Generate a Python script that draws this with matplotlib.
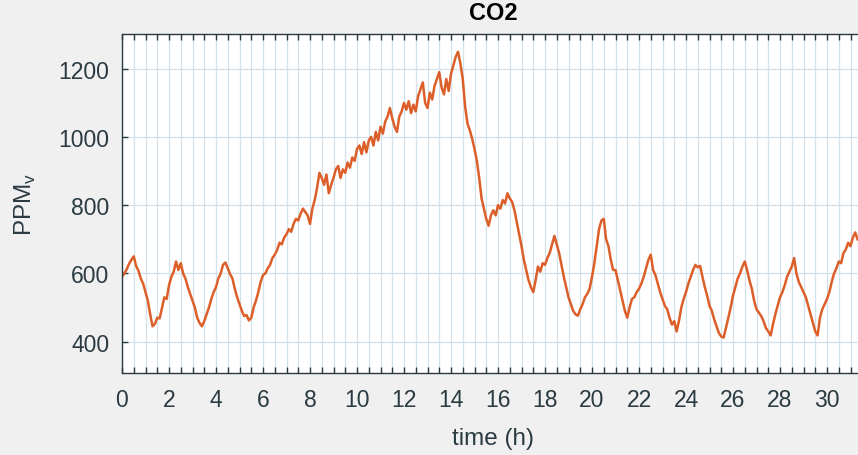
import numpy as np
import matplotlib.pyplot as plt
from matplotlib.ticker import MultipleLocator

# CO2 concentration (PPMv), one sample every 0.1 h
co2 = [
    590, 600, 612, 628, 640, 650, 622, 608, 585, 570,
    545, 520, 480, 445, 452, 470, 468, 498, 530, 525,
    565, 590, 605, 635, 610, 630, 600, 585, 560, 540,
    520, 500, 470, 455, 445, 460, 480, 500, 525, 545,
    560, 585, 600, 625, 632, 615, 598, 585, 555, 530,
    510, 490, 475, 478, 462, 470, 500, 520, 545, 575,
    595, 600, 615, 625, 645, 655, 668, 690, 685, 705,
    715, 730, 722, 745, 760, 755, 775, 790, 780, 770,
    745, 790, 815, 850, 895, 880, 860, 890, 835, 860,
    880, 905, 915, 880, 905, 895, 925, 910, 940, 930,
    965, 975, 950, 985, 955, 990, 1000, 975, 1015, 990,
    1030, 1010, 1045, 1060, 1085, 1055, 1030, 1015, 1060, 1075,
    1100, 1080, 1105, 1070, 1095, 1075, 1120, 1140, 1160, 1100,
    1085, 1130, 1110, 1150, 1170, 1190, 1145, 1125, 1170, 1135,
    1185, 1210, 1235, 1250, 1215, 1170, 1090, 1040, 1020, 995,
    965, 930, 880, 820, 790, 760, 740, 770, 785, 770,
    800, 790, 815, 805, 835, 820, 810, 785, 750, 715,
    680, 640, 610, 580, 560, 545, 580, 620, 605, 630,
    625, 645, 660, 685, 710, 685, 660, 625, 590, 560,
    530, 510, 490, 480, 476, 495, 510, 530, 540, 555,
    590, 630, 680, 730, 755, 760, 700, 680, 640, 610,
    610, 580, 550, 520, 490, 470, 500, 525, 530, 545,
    555, 570, 590, 615, 640, 655, 610, 595, 570, 545,
    525, 505, 495, 470, 450, 460, 430, 460, 500, 525,
    545, 570, 590, 610, 625, 618, 622, 590, 560, 535,
    505, 490, 465, 445, 425, 415, 412, 440, 470, 500,
    535, 560, 585, 600, 620, 635, 610, 580, 555, 520,
    495, 485, 475, 460, 440, 430, 418, 450, 480, 505,
    530, 545, 565, 590, 605, 620, 645, 600, 575, 560,
    545, 530, 505, 480, 455, 430, 418, 470, 495, 510,
    525, 545, 575, 600, 615, 635, 630, 660, 670, 690,
    680, 705, 720, 700,
]
t = np.arange(len(co2)) * 0.1  # time (h)

plt.rcParams['font.family'] = ['Liberation Sans', 'DejaVu Sans']
axis_col = '#2a3b42'

fig = plt.figure(figsize=(8.58, 4.56), dpi=100, facecolor='#f0f0f0')
ax = fig.add_axes([122 / 858, 82 / 456, 742 / 858, 339 / 456])
ax.set_facecolor('white')

ax.plot(t, co2, color='#dc5f2a', lw=1.8)

ax.set_xlim(0, 742 / 23.5)
ax.set_ylim(308, 1302)
ax.xaxis.set_major_locator(MultipleLocator(2))
ax.xaxis.set_minor_locator(MultipleLocator(0.5))
ax.yaxis.set_major_locator(MultipleLocator(200))

ax.grid(True, which='both', axis='x', color='#d3e2ea', lw=0.9)
ax.grid(True, which='major', axis='y', color='#d3e2ea', lw=0.9)
ax.set_axisbelow(True)

ax.tick_params(which='both', direction='in', top=True, right=False,
               color=axis_col, labelcolor=axis_col, labelsize=16.5, width=1)
ax.tick_params(which='major', length=4)
ax.tick_params(which='minor', length=4)
ax.tick_params(axis='x', pad=11)
ax.tick_params(axis='y', pad=9)
for s in ax.spines.values():
    s.set_color(axis_col)
    s.set_linewidth(1)

ax.set_title('CO2', fontsize=17, fontweight='bold', color='black', pad=11)
ax.set_xlabel('time (h)', fontsize=17.5, color=axis_col, labelpad=11)
ax.set_ylabel('PPM$_\\mathregular{v}$', fontsize=17.5, color=axis_col, labelpad=15)

fig.savefig('out.png', dpi=100, facecolor=fig.get_facecolor())
